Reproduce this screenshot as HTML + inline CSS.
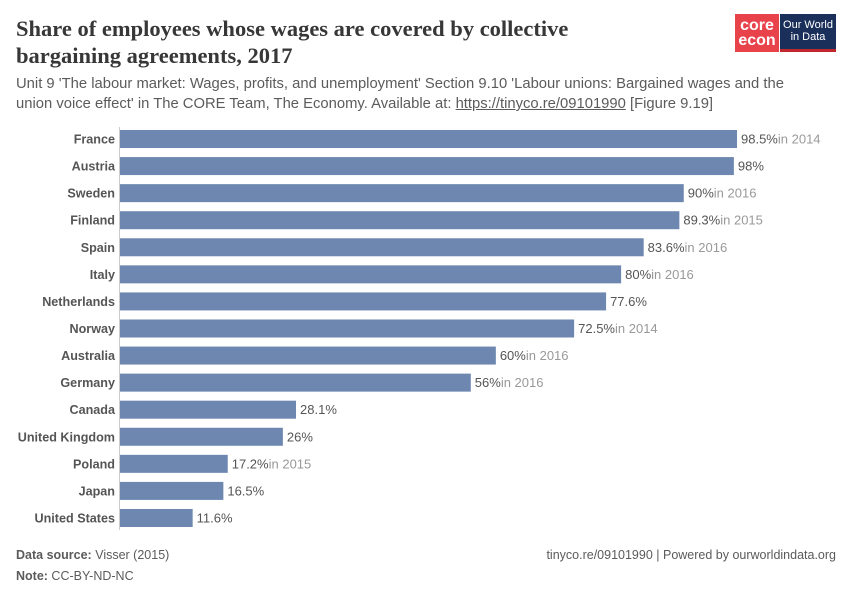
<!DOCTYPE html>
<html><head><meta charset="utf-8"><style>
body{margin:0;background:#fff;font-family:"Liberation Sans",sans-serif;}
#wrap{position:relative;width:850px;height:600px;overflow:hidden;}
.t{position:absolute;white-space:nowrap;}
</style></head><body>
<div id="wrap">
<div class="t" style="left:16px;top:15px;font-family:'Liberation Serif',serif;font-weight:bold;font-size:22.5px;line-height:27px;color:#373737;">Share of employees whose wages are covered by collective<br>bargaining agreements, 2017</div>
<div class="t" style="left:16px;top:74px;font-size:14.8px;line-height:20px;color:#5b5b5b;">Unit 9 'The labour market: Wages, profits, and unemployment' Section 9.10 'Labour unions: Bargained wages and the<br>union voice effect' in The CORE Team, The Economy. Available at: <span style="text-decoration:underline">https://tinyco.re/09101990</span> [Figure 9.19]</div>
<div style="position:absolute;left:735px;top:14px;width:44px;height:38px;background:#e8434a;color:#fff;font-weight:bold;font-size:16px;line-height:15px;text-align:center;padding-top:4px;box-sizing:border-box;">core<br>econ</div>
<div style="position:absolute;left:780px;top:14px;width:56px;height:38px;background:#1a2f5a;border-bottom:3px solid #c0282d;box-sizing:border-box;color:#fff;font-size:11px;line-height:12px;text-align:center;padding-top:5px;">Our World<br>in Data</div>
<svg id="plot" width="850" height="600" style="position:absolute;left:0;top:0"></svg>
<div class="t" style="left:16px;top:548px;font-size:12.5px;color:#5b5b5b;"><b>Data source:</b> Visser (2015)</div>
<div class="t" style="left:16px;top:569px;font-size:12.5px;color:#5b5b5b;"><b>Note:</b> CC-BY-ND-NC</div>
<div class="t" style="right:14px;top:548px;font-size:12.5px;color:#5b5b5b;">tinyco.re/09101990 | Powered by ourworldindata.org</div>
</div>
<script>
const countries=["France","Austria","Sweden","Finland","Spain","Italy","Netherlands","Norway","Australia","Germany","Canada","United Kingdom","Poland","Japan","United States"];
const values=[98.5,98,90,89.3,83.6,80,77.6,72.5,60,56,28.1,26,17.2,16.5,11.6];
const years=["in 2014","","in 2016","in 2015","in 2016","in 2016","","in 2014","in 2016","in 2016","","","in 2015","",""];
const svg=document.getElementById('plot');
const NS="http://www.w3.org/2000/svg";
const x0=120,pxPer=617/98.5;
function xs(v){return x0+v*pxPer;}
function ys(i){return 130+i*27.07;}
const bh=18;
const ax=document.createElementNS(NS,'line');
ax.setAttribute('x1',119.5);ax.setAttribute('x2',119.5);ax.setAttribute('y1',127);ax.setAttribute('y2',530);
ax.setAttribute('stroke','#ccc');


svg.appendChild(ax);
countries.forEach((c,i)=>{
 const y=ys(i);
 const r=document.createElementNS(NS,'rect');
 r.setAttribute('x',x0);r.setAttribute('y',y);r.setAttribute('width',xs(values[i])-x0);r.setAttribute('height',bh);
 r.setAttribute('fill','#6d87b0');
 
 
 svg.appendChild(r);
 const l=document.createElementNS(NS,'text');
 l.setAttribute('x',115);l.setAttribute('y',y+bh/2+4.5);l.setAttribute('text-anchor','end');
 l.setAttribute('font-size','12.6');l.setAttribute('font-weight','bold');l.setAttribute('fill','#555');
 l.setAttribute('font-family','Liberation Sans, sans-serif');
 l.textContent=c;
 
 
 svg.appendChild(l);
 const v=document.createElementNS(NS,'text');
 v.setAttribute('x',xs(values[i])+4);v.setAttribute('y',y+bh/2+4.5);
 v.setAttribute('font-size','13');v.setAttribute('fill','#555');
 v.setAttribute('font-family','Liberation Sans, sans-serif');
 v.textContent=values[i]+'%';
 if(years[i]){const s=document.createElementNS(NS,'tspan');s.setAttribute('fill','#999');s.textContent=years[i];v.appendChild(s);}
 
 
 svg.appendChild(v);
});
</script>
</body></html>
